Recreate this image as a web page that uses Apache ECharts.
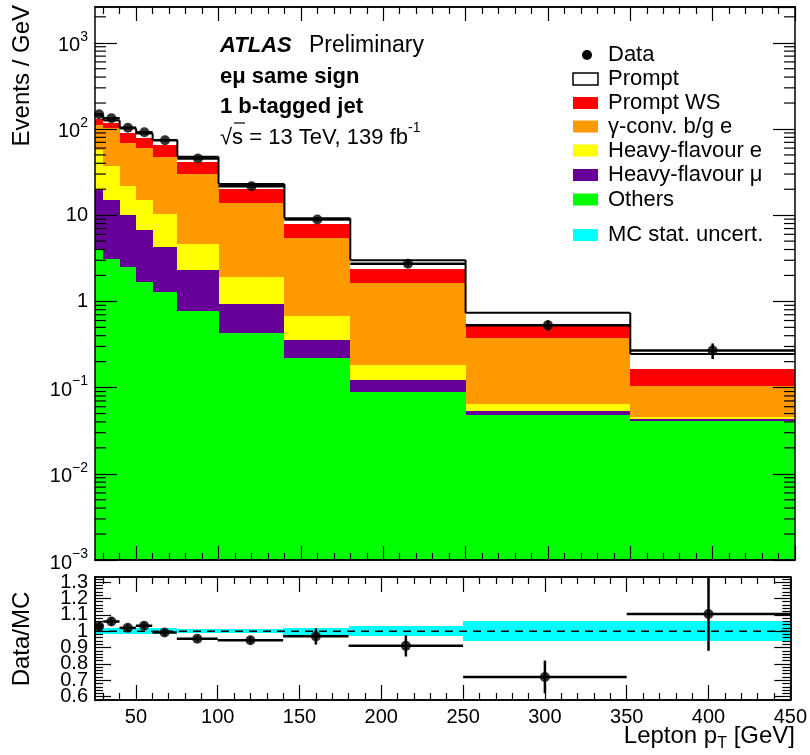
<!DOCTYPE html>
<html>
<head>
<meta charset="utf-8">
<script src="https://cdn.jsdelivr.net/npm/echarts@6/dist/echarts.min.js"></script>
<style>
html,body{margin:0;padding:0;background:#fff;}
#c{width:810px;height:755px;}
</style>
</head>
<body>
<div id="c"></div>
<script>
// ---------------- data (per GeV) ----------------
const binEdges   = [25, 30, 40, 50, 60, 75, 100, 140, 180, 250, 350, 450];
const others     = [4.0, 3.1, 2.5, 1.68, 1.28, 0.765, 0.43, 0.221, 0.088, 0.048, 0.0414];
const hfMu       = [15.6, 12.1, 7.5, 5.0, 3.0, 1.52, 0.51, 0.131, 0.033, 0.0057, 0.0021];
const hfE        = [37.4, 21.8, 11.7, 8.5, 6.1, 2.4, 0.98, 0.318, 0.064, 0.0113, 0.0019];
const gammaConv  = [54, 67, 46.3, 44.3, 37.1, 25.3, 12.0, 4.83, 1.445, 0.313, 0.0576];
const promptWS   = [19, 12, 21, 19.5, 18.5, 11.7, 6.0, 2.36, 0.77, 0.172, 0.063];
const prompt     = [14, 9.6, 12.5, 9.6, 8.6, 6.0, 3.1, 1.34, 0.61, 0.186, 0.079];
const dataVals   = [148, 133, 103.5, 91.5, 74, 45.5, 21.7, 8.9, 2.74, 0.53, 0.27];
const ratioVals  = [1.03, 1.059, 1.02, 1.033, 0.992, 0.954, 0.944, 0.968, 0.91, 0.72, 1.105];
const ratioErr   = [0.03, 0.025, 0.022, 0.022, 0.02, 0.017, 0.022, 0.05, 0.065, 0.10, 0.225];
const mcStatErr  = [0.017, 0.017, 0.017, 0.017, 0.017, 0.014, 0.014, 0.022, 0.032, 0.06, 0.06];
const xTickLabels     = [50, 100, 150, 200, 250, 300, 350, 400, 450];
const ratioTickLabels = [0.6, 0.7, 0.8, 0.9, 1, 1.1, 1.2, 1.3];

// ---------------- axis ranges ----------------
const X_MIN = 25, X_MAX = 450;
const Y_MIN = 1e-3, Y_MAX = 2600;
const R_MIN = 0.579, R_MAX = 1.331;
const FONT = '"Liberation Sans", Arial, Helvetica, sans-serif';

// tick positions
const xMinorTicks = [];
for (let v = 30; v < X_MAX; v += 10) if (v % 50 !== 0) xMinorTicks.push(v);
const rMinorTicks = [];
for (let i = 29; i <= 66; i++) { const v = +(i * 0.02).toFixed(2); if (v >= R_MIN && v <= R_MAX && Math.abs(v * 10 - Math.round(v * 10)) > 1e-6) rMinorTicks.push(v); }
const logMinor = [];
for (let k = -3; k <= 3; k++) for (let m = 2; m <= 9; m++) { const v = m * Math.pow(10, k); if (v < Y_MAX) logMinor.push(v); }
// split ratio labels into two alternating sets so none get hidden by overlap handling
const ratioLabelsA = ratioTickLabels.filter((v, i) => i % 2 === 0);
const ratioLabelsB = ratioTickLabels.filter((v, i) => i % 2 === 1);

// ---------------- stacked components ----------------
const components = [
  {name: 'Others', vals: others, color: '#00ff00'},
  {name: 'Heavy-flavour μ', vals: hfMu, color: '#660099'},
  {name: 'Heavy-flavour e', vals: hfE, color: '#ffff00'},
  {name: 'γ-conv. b/g e', vals: gammaConv, color: '#ff9900'},
  {name: 'Prompt WS', vals: promptWS, color: '#ff0000'},
  {name: 'Prompt', vals: prompt, color: '#ffffff'}
];
const nBins = binEdges.length - 1;
const cum = new Array(nBins).fill(0);
components.forEach(c => {
  c.rows = c.vals.map((v, i) => {
    const lo = cum[i];
    cum[i] += v;
    return [binEdges[i], binEdges[i + 1], Math.max(lo, Y_MIN), cum[i]];
  });
});
const mcTotal = cum.slice();
const outlineRows = mcTotal.map((t, i) => [binEdges[i], binEdges[i + 1], t, i + 1 < nBins ? mcTotal[i + 1] : t]);
const dataRows = dataVals.map((v, i) => [binEdges[i], binEdges[i + 1], v, ratioErr[i] * mcTotal[i]]);
const dataPts = dataVals.map((v, i) => [(binEdges[i] + binEdges[i + 1]) / 2, v]);
const ratioRows = ratioVals.map((v, i) => [binEdges[i], binEdges[i + 1], v, ratioErr[i]]);
const ratioPts = ratioVals.map((v, i) => [(binEdges[i] + binEdges[i + 1]) / 2, v]);
const bandRows = mcStatErr.map((e, i) => [binEdges[i], binEdges[i + 1], 1 - e, 1 + e]);

// ---------------- render helpers ----------------
function renderRect(params, api) {
  const a = api.coord([api.value(0), api.value(3)]);
  const b = api.coord([api.value(1), api.value(2)]);
  const x0 = Math.round(a[0]), x1 = Math.round(b[0]);
  const y0 = Math.round(a[1]), y1 = Math.round(b[1]);
  const color = api.visual('color');
  return {type: 'rect', shape: {x: x0, y: y0, width: x1 - x0, height: y1 - y0},
    style: {fill: color}};
}
function clampY(y, cs) { return Math.min(Math.max(y, cs.y), cs.y + cs.height); }
function renderOutline(params, api) {
  const a = api.coord([api.value(0), api.value(2)]);
  const b = api.coord([api.value(1), api.value(2)]);
  const c = api.coord([api.value(1), api.value(3)]);
  const st = {stroke: '#000', lineWidth: 2};
  return {type: 'group', children: [
    {type: 'line', shape: {x1: a[0], y1: a[1], x2: b[0], y2: b[1]}, style: st},
    {type: 'line', shape: {x1: b[0], y1: b[1], x2: c[0], y2: c[1]}, style: st}
  ]};
}
function renderErr(isLog) {
  return function (params, api) {
    const cs = params.coordSys;
    const x0 = api.value(0), x1 = api.value(1), v = api.value(2), e = api.value(3);
    const xc = (x0 + x1) / 2;
    const a = api.coord([x0, v]), b = api.coord([x1, v]);
    const lo = isLog ? Math.max(v - e, Y_MIN) : v - e;
    const p = api.coord([xc, lo]), q = api.coord([xc, v + e]);
    const st = {stroke: '#000', lineWidth: 2.5};
    return {type: 'group', children: [
      {type: 'line', shape: {x1: a[0], y1: a[1], x2: b[0], y2: b[1]}, style: st},
      {type: 'line', shape: {x1: p[0], y1: clampY(p[1], cs), x2: q[0], y2: clampY(q[1], cs)}, style: st}
    ]};
  };
}
function renderLogMinor(params, api) {
  const cs = params.coordSys;
  const p = api.coord([X_MIN, api.value(1)]);
  const st = {stroke: '#000', lineWidth: 1.2};
  return {type: 'group', children: [
    {type: 'line', shape: {x1: cs.x, y1: p[1], x2: cs.x + 11, y2: p[1]}, style: st},
    {type: 'line', shape: {x1: cs.x + cs.width - 11, y1: p[1], x2: cs.x + cs.width, y2: p[1]}, style: st}
  ]};
}
function renderDashed(params, api) {
  const a = api.coord([api.value(0), api.value(2)]);
  const b = api.coord([api.value(1), api.value(2)]);
  return {type: 'line', shape: {x1: a[0], y1: a[1], x2: b[0], y2: b[1]},
    style: {stroke: '#000', lineWidth: 1.5, lineDash: [8, 6]}};
}

// ---------------- axes ----------------
const lineSt = {color: '#000', width: 1.5};
const tickSt = {color: '#000', width: 1.2};
function xAxisDef(grid, pos, ticks, len, labels) {
  return {
    type: 'value', gridIndex: grid, position: pos, min: X_MIN, max: X_MAX, z: 10,
    axisLine: {show: true, onZero: false, lineStyle: lineSt},
    axisTick: {show: true, inside: true, length: len, customValues: ticks, lineStyle: tickSt},
    axisLabel: labels ? {show: true, customValues: xTickLabels, fontSize: 20, fontFamily: FONT, color: '#000', margin: 7,
                         interval: 0, showMinLabel: true, showMaxLabel: true}
                      : {show: false},
    splitLine: {show: false}
  };
}
function logLabel(v) {
  const lg = Math.log10(v);
  const k = Math.round(lg);
  if (Math.abs(lg - k) > 1e-6) return '';
  if (k === 0) return '{p|1}';
  if (k === 1) return '{p|10}';
  return '{b|10}{s|' + (k < 0 ? '\u2212' : '') + Math.abs(k) + '}';
}
function yLogDef(pos, labels) {
  return {
    type: 'log', logBase: 10, gridIndex: 0, position: pos, min: Y_MIN, max: Y_MAX, z: 10,
    axisLine: {show: true, lineStyle: lineSt},
    axisTick: {show: true, inside: true, length: 22, lineStyle: tickSt},
    axisLabel: labels ? {
      show: true, formatter: logLabel, showMinLabel: true, showMaxLabel: false, margin: 7, color: '#000',
      rich: {
        p: {fontSize: 20, fontFamily: FONT, color: '#000', lineHeight: 20},
        b: {fontSize: 20, fontFamily: FONT, color: '#000', lineHeight: 26, verticalAlign: 'bottom'},
        s: {fontSize: 14, fontFamily: FONT, color: '#000', lineHeight: 26, verticalAlign: 'top'}
      }
    } : {show: false},
    splitLine: {show: false}
  };
}
function yRatioDef(pos, ticks, len, labelVals, showLine) {
  return {
    type: 'value', gridIndex: 1, position: pos, min: R_MIN, max: R_MAX, z: 10,
    axisLine: {show: showLine !== false, lineStyle: lineSt},
    axisTick: ticks ? {show: true, inside: true, length: len, customValues: ticks, lineStyle: tickSt} : {show: false},
    axisLabel: labelVals ? {show: true, customValues: labelVals, fontSize: 20, fontFamily: FONT, color: '#000', margin: 7,
                         interval: 0, showMinLabel: true, showMaxLabel: true,
                         formatter: v => String(+(+v).toFixed(2))}
                      : {show: false},
    splitLine: {show: false}
  };
}

const xAxes = [
  xAxisDef(0, 'bottom', xTickLabels, 14, false),
  xAxisDef(0, 'bottom', xMinorTicks, 7, false),
  xAxisDef(0, 'top', xTickLabels, 14, false),
  xAxisDef(0, 'top', xMinorTicks, 7, false),
  xAxisDef(1, 'bottom', xTickLabels, 15, true),
  xAxisDef(1, 'bottom', xMinorTicks, 7, false),
  xAxisDef(1, 'top', xTickLabels, 15, false),
  xAxisDef(1, 'top', xMinorTicks, 7, false)
];
const yAxes = [
  yLogDef('left', true),
  yLogDef('right', false),
  yRatioDef('left', ratioTickLabels, 16, ratioLabelsA),
  yRatioDef('left', rMinorTicks, 8, null),
  yRatioDef('right', ratioTickLabels, 16, null),
  yRatioDef('right', rMinorTicks, 8, null),
  yRatioDef('left', null, 0, ratioLabelsB, false)
];

// ---------------- series ----------------
const series = [];
components.forEach(c => {
  series.push({type: 'custom', name: c.name, xAxisIndex: 0, yAxisIndex: 0, itemStyle: {color: c.color},
    encode: {x: [0, 1], y: [2, 3]}, renderItem: renderRect, data: c.rows, silent: true, z: 2});
});
series.push({type: 'custom', name: 'outline', xAxisIndex: 0, yAxisIndex: 0, encode: {x: [0, 1], y: [2, 3]},
  renderItem: renderOutline, data: outlineRows, silent: true, z: 3});
series.push({type: 'custom', name: 'dataErr', xAxisIndex: 0, yAxisIndex: 0, encode: {x: [0, 1], y: [2]},
  renderItem: renderErr(true), data: dataRows, silent: true, z: 4});
series.push({type: 'scatter', name: 'Data', xAxisIndex: 0, yAxisIndex: 0, data: dataPts, symbol: 'circle',
  symbolSize: 10, itemStyle: {color: '#000'}, silent: true, z: 5});
series.push({type: 'custom', name: 'logMinor', xAxisIndex: 0, yAxisIndex: 0, encode: {x: 0, y: 1},
  renderItem: renderLogMinor, data: logMinor.map(v => [X_MIN, v]), silent: true, z: 11});
series.push({type: 'custom', name: 'MC stat. uncert.', xAxisIndex: 4, yAxisIndex: 2, itemStyle: {color: '#00ffff'},
  encode: {x: [0, 1], y: [2, 3]}, renderItem: renderRect, data: bandRows, silent: true, z: 2});
series.push({type: 'custom', name: 'unity', xAxisIndex: 4, yAxisIndex: 2, encode: {x: [0, 1], y: 2},
  renderItem: renderDashed, data: [[X_MIN, X_MAX, 1]], silent: true, z: 3});
series.push({type: 'custom', name: 'ratioErr', xAxisIndex: 4, yAxisIndex: 2, encode: {x: [0, 1], y: [2]},
  renderItem: renderErr(false), data: ratioRows, silent: true, z: 4});
series.push({type: 'scatter', name: 'Ratio', xAxisIndex: 4, yAxisIndex: 2, data: ratioPts, symbol: 'circle',
  symbolSize: 10, itemStyle: {color: '#000'}, silent: true, z: 5});

// ---------------- legend & labels (graphic) ----------------
const legendItems = [
  {label: 'Data', kind: 'dot', y: 55},
  {label: 'Prompt', fill: '#ffffff', stroke: '#000', y: 79},
  {label: 'Prompt WS', fill: '#ff0000', y: 103},
  {label: 'γ-conv. b/g e', fill: '#ff9900', y: 126.5},
  {label: 'Heavy-flavour e', fill: '#ffff00', y: 150.5},
  {label: 'Heavy-flavour μ', fill: '#660099', y: 175},
  {label: 'Others', fill: '#00ff00', y: 199.5},
  {label: 'MC stat. uncert.', fill: '#00ffff', y: 235}
];
const graphics = [];
legendItems.forEach(it => {
  if (it.kind === 'dot') {
    graphics.push({type: 'circle', shape: {cx: 587, cy: it.y, r: 5}, style: {fill: '#000'}});
  } else {
    graphics.push({type: 'rect', shape: {x: 573, y: it.y - 6, width: 25, height: 12},
      style: {fill: it.fill, stroke: it.stroke || it.fill, lineWidth: it.stroke ? 1.5 : 0}});
  }
  graphics.push({type: 'text', x: 608, y: it.y, style: {text: it.label, fontSize: 22, fontFamily: FONT,
    fill: '#000', verticalAlign: 'middle', align: 'left'}});
});
const txt = (x, y, text, extra) => Object.assign({type: 'text', x: x, y: y,
  style: Object.assign({text: text, fontSize: 22, fontFamily: FONT, fill: '#000', verticalAlign: 'middle', align: 'left'}, extra || {})});
graphics.push(txt(220, 46, 'ATLAS', {fontWeight: 'bold', fontStyle: 'italic'}));
graphics.push(txt(309, 46, 'Preliminary', {fontSize: 23}));
graphics.push(txt(220, 77, 'eμ same sign', {fontWeight: 'bold'}));
graphics.push(txt(220, 107, '1 b-tagged jet', {fontWeight: 'bold'}));
graphics.push(txt(220, 135, '{a|√s = 13 TeV, 139 fb}{s|-1}', {rich: {
  a: {fontSize: 22, fontFamily: FONT, fill: '#000', lineHeight: 28, verticalAlign: 'bottom'},
  s: {fontSize: 14, fontFamily: FONT, fill: '#000', lineHeight: 28, verticalAlign: 'top'}}}));
graphics.push({type: 'line', shape: {x1: 234, y1: 123, x2: 245, y2: 123}, style: {stroke: '#000', lineWidth: 1.2}});
graphics.push({type: 'text', x: 22, y: 5, rotation: Math.PI / 2,
  style: {text: 'Events / GeV', fontSize: 24, fontFamily: FONT, fill: '#000', align: 'right', verticalAlign: 'middle'}});
graphics.push({type: 'text', x: 22, y: 639, rotation: Math.PI / 2,
  style: {text: 'Data/MC', fontSize: 24, fontFamily: FONT, fill: '#000', align: 'center', verticalAlign: 'middle'}});
graphics.push({type: 'text', x: 795, y: 738, style: {text: '{a|Lepton p}{s|T}{a| [GeV]}', align: 'right', verticalAlign: 'middle',
  rich: {
    a: {fontSize: 24, fontFamily: FONT, fill: '#000', lineHeight: 27, verticalAlign: 'top'},
    s: {fontSize: 16, fontFamily: FONT, fill: '#000', lineHeight: 27, verticalAlign: 'bottom'}
  }}});

const option = {
  animation: false,
  backgroundColor: '#ffffff',
  grid: [
    {left: 95, top: 7, width: 700, height: 553, containLabel: false},
    {left: 95, top: 577, width: 700, height: 123, containLabel: false}
  ],
  xAxis: xAxes,
  yAxis: yAxes,
  series: series,
  graphic: {elements: graphics}
};
const chart = echarts.init(document.getElementById('c'), null, {renderer: 'canvas', width: 810, height: 755});
chart.setOption(option);
</script>
</body>
</html>
